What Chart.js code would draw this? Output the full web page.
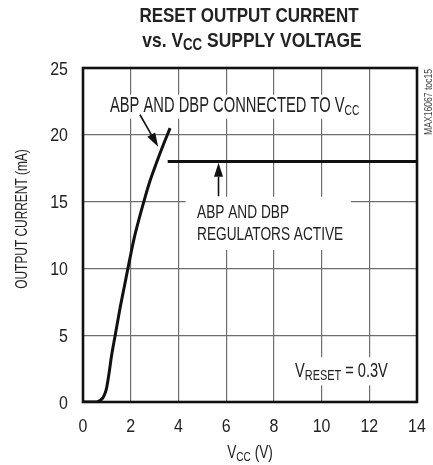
<!DOCTYPE html>
<html>
<head>
<meta charset="utf-8">
<script src="https://cdn.jsdelivr.net/npm/chart.js@4.4.1/dist/chart.umd.min.js"></script>
<style>
  html, body { margin: 0; padding: 0; background: #fff; }
</style>
</head>
<body>
<canvas id="chart" width="433" height="465"></canvas>
<script>
// curve: ABP and DBP connected to Vcc
const vccConnected = [0, 0.55, 0.7, 0.85, 0.97, 1.07, 1.2, 1.35, 1.55, 1.75, 1.95, 2.15, 2.35, 2.55, 2.8, 3.1, 3.4, 3.65];
const currentConnected = [0, 0, 0.1, 0.35, 0.9, 1.9, 3.5, 5.0, 7.0, 8.8, 10.6, 12.3, 13.7, 15.0, 16.5, 18.0, 19.4, 20.5];
// curve: regulators active
const vccRegulated = [3.55, 14];
const currentRegulated = [18, 18];

const xTicks = [0, 2, 4, 6, 8, 10, 12, 14];
const yTicks = [0, 5, 10, 15, 20, 25];

const FONT = '"Liberation Sans", Arial, sans-serif';
const INK = '#222';

// draw a run of text pieces [text, size, weight, dy], squeezed horizontally
function richText(ctx, parts, x, y, align, sx) {
  let w = 0;
  parts.forEach(p => {
    ctx.font = (p[2] || 'normal') + ' ' + p[1] + 'px ' + FONT;
    w += ctx.measureText(p[0]).width;
  });
  w *= sx;
  const x0 = align === 'center' ? x - w / 2 : align === 'right' ? x - w : x;
  ctx.save();
  ctx.translate(x0, y);
  ctx.scale(sx, 1);
  ctx.textAlign = 'left';
  ctx.textBaseline = 'alphabetic';
  let cx = 0;
  parts.forEach(p => {
    ctx.font = (p[2] || 'normal') + ' ' + p[1] + 'px ' + FONT;
    ctx.fillText(p[0], cx, p[3] || 0);
    cx += ctx.measureText(p[0]).width;
  });
  ctx.restore();
}

function arrow(ctx, x1, y1, x2, y2) {
  const a = Math.atan2(y2 - y1, x2 - x1);
  const len = 14, half = 4.5;
  const bx = x2 - len * Math.cos(a), by = y2 - len * Math.sin(a);
  ctx.beginPath();
  ctx.moveTo(x1, y1);
  ctx.lineTo(bx, by);
  ctx.lineWidth = 1.6;
  ctx.strokeStyle = '#111';
  ctx.stroke();
  ctx.beginPath();
  ctx.moveTo(x2, y2);
  ctx.lineTo(bx + half * Math.sin(a), by - half * Math.cos(a));
  ctx.lineTo(bx - half * Math.sin(a), by + half * Math.cos(a));
  ctx.closePath();
  ctx.fillStyle = '#111';
  ctx.fill();
}

// label boxes that blank out the grid (data units: x1, x2, y1, y2)
const labelBoxes = [
  [1.0, 11.4, 21.2, 23.0],
  [4.3, 11.23, 11.38, 15.36],
  [8.6, 13.0, 1.25, 3.35]
];
// arrows (data units: from x, from y, to x, to y)
const arrows = [
  [2.39, 21.5, 3.15, 19.1],
  [5.68, 15.4, 5.68, 17.9]
];

const decor = {
  id: 'decor',
  beforeDatasetsDraw(chart) {
    const { ctx, chartArea: a, scales: { x, y } } = chart;
    ctx.save();
    ctx.fillStyle = '#fff';
    labelBoxes.forEach(b => {
      const l = x.getPixelForValue(b[0]), r = x.getPixelForValue(b[1]);
      const t = y.getPixelForValue(b[3]), btm = y.getPixelForValue(b[2]);
      ctx.fillRect(l, t, r - l, btm - t);
    });
    ctx.strokeStyle = '#111';
    ctx.lineWidth = 2.6;
    ctx.strokeRect(a.left, a.top, a.right - a.left, a.bottom - a.top);
    ctx.restore();
  },
  afterDatasetsDraw(chart) {
    const { ctx, scales: { x, y } } = chart;
    ctx.save();
    arrows.forEach(r => arrow(ctx, x.getPixelForValue(r[0]), y.getPixelForValue(r[1]),
                                   x.getPixelForValue(r[2]), y.getPixelForValue(r[3])));
    ctx.fillStyle = INK;

    // tick labels
    x.ticks.forEach(t => richText(ctx, [[String(t.value), 19]], x.getPixelForValue(t.value), 432, 'center', 0.84));
    y.ticks.forEach(t => richText(ctx, [[String(t.value), 19]], 68, y.getPixelForValue(t.value) + 6.5, 'right', 0.84));

    // axis titles
    richText(ctx, [['V', 17.5], ['CC', 13, 'normal', 3], [' (V)', 17.5]], 250, 458, 'center', 0.78);
    ctx.save();
    ctx.translate(27, 219);
    ctx.rotate(-Math.PI / 2);
    richText(ctx, [['OUTPUT CURRENT (mA)', 17]], 0, 0, 'center', 0.70);
    ctx.restore();

    // annotations
    richText(ctx, [['ABP AND DBP CONNECTED TO V', 21.5], ['CC', 15, 'normal', 3]],
      x.getPixelForValue(1.13), y.getPixelForValue(21.7), 'left', 0.685);
    richText(ctx, [['ABP AND DBP', 19]], x.getPixelForValue(4.78), y.getPixelForValue(13.77), 'left', 0.72);
    richText(ctx, [['REGULATORS ACTIVE', 19]], x.getPixelForValue(4.78), y.getPixelForValue(12.13), 'left', 0.72);
    richText(ctx, [['V', 19.5], ['RESET', 14.5, 'normal', 3], [' = 0.3V', 19.5]],
      x.getPixelForValue(8.89), y.getPixelForValue(1.87), 'left', 0.75);

    // title
    richText(ctx, [['RESET OUTPUT CURRENT', 21, 'bold']], 249, 22, 'center', 0.81);
    richText(ctx, [['vs. V', 21, 'bold'], ['CC', 16, 'bold', 3], [' SUPPLY VOLTAGE', 21, 'bold']], 252, 47, 'center', 0.83);

    // side note
    ctx.fillStyle = '#444';
    ctx.save();
    ctx.translate(432, 102);
    ctx.rotate(-Math.PI / 2);
    richText(ctx, [['MAX16067 toc15', 10.5]], 0, 0, 'center', 0.82);
    ctx.restore();
    ctx.restore();
  }
};

const toPoints = (xs, ys) => xs.map((v, i) => ({ x: v, y: ys[i] }));

new Chart(document.getElementById('chart').getContext('2d'), {
  type: 'scatter',
  data: {
    datasets: [{
      label: 'Connected to Vcc',
      data: toPoints(vccConnected, currentConnected),
      showLine: true,
      borderColor: '#111',
      borderWidth: 3,
      pointRadius: 0,
      cubicInterpolationMode: 'monotone'
    }, {
      label: 'Regulators active',
      data: toPoints(vccRegulated, currentRegulated),
      showLine: true,
      borderColor: '#111',
      borderWidth: 3,
      pointRadius: 0
    }]
  },
  options: {
    responsive: false,
    animation: false,
    devicePixelRatio: 1,
    layout: { padding: { top: 68, right: 16, left: 0, bottom: 0 } },
    plugins: { legend: { display: false }, tooltip: { enabled: false } },
    scales: {
      x: {
        type: 'linear', min: 0, max: 14,
        afterBuildTicks: s => { s.ticks = xTicks.map(v => ({ value: v })); },
        afterFit: s => { s.height = 63; },
        ticks: { display: false },
        grid: { color: '#6e6e6e', lineWidth: 1.2, drawTicks: false },
        border: { display: false }
      },
      y: {
        type: 'linear', min: 0, max: 25,
        afterBuildTicks: s => { s.ticks = yTicks.map(v => ({ value: v })); },
        afterFit: s => { s.width = 83; },
        ticks: { display: false },
        grid: { color: '#6e6e6e', lineWidth: 1.2, drawTicks: false },
        border: { display: false }
      }
    }
  },
  plugins: [decor]
});
</script>
</body>
</html>
